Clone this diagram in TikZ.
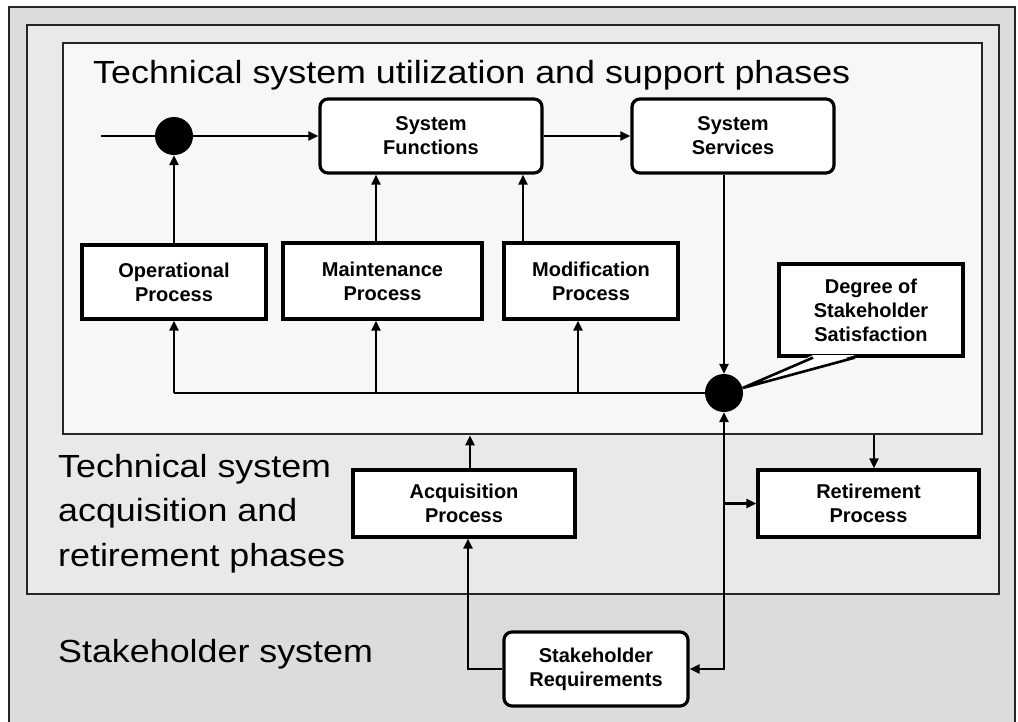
\documentclass[tikz,border=0pt]{standalone}
\usepackage{fontspec}
\setmainfont{Liberation Sans}
\newfontfamily\phasefont[FakeStretch=1.12]{Liberation Sans}
\usetikzlibrary{arrows.meta}

\definecolor{stakegray}{HTML}{DCDCDC}
\definecolor{acqgray}{HTML}{E9E9E9}
\definecolor{utilgray}{HTML}{F7F7F7}

\begin{document}
\begin{tikzpicture}[x=1pt, y=-1pt,
    >={Triangle[length=10pt,width=9pt]},
    phase/.style={draw=black!85, line width=2.8pt},
    phaselabel/.style={inner sep=0pt, font=\phasefont\fontsize{32}{44.5}\selectfont},
    procbox/.style={draw, line width=3.2pt, fill=white, align=center, inner sep=0pt,
        font=\fontsize{20}{24}\selectfont\bfseries},
    roundbox/.style={procbox, rounded corners=8pt},
    junction/.style={circle, fill=black, minimum size=38pt, inner sep=0pt},
    flow/.style={line width=2.6pt}]
    \useasboundingbox (0,0) rectangle (1018,721);
    \clip (0,0) rectangle (1018,721);

    % nested phases
    \draw[phase, fill=stakegray] (9,7) rectangle (1015,740);
    \draw[phase, fill=acqgray] (27,25) rectangle (999,594);
    \node[phase, fill=utilgray, minimum width=919pt, minimum height=391pt, inner sep=0pt] (util) at (522.5,238.5) {};

    \node[phaselabel, anchor=base west] at (93,83) {Technical system utilization and support phases};
    \node[phaselabel, anchor=north west, align=left] at (58,454) {Technical system\\acquisition and\\retirement phases};
    \node[phaselabel, anchor=base west] at (58,662) {Stakeholder system};

    % utilization and support
    \node[roundbox, minimum width=222pt, minimum height=74pt] (sf) at (431,136) {System\\Functions};
    \node[roundbox, minimum width=202pt, minimum height=74pt] (ss) at (733,136) {System\\Services};
    \node[procbox, minimum width=184pt, minimum height=74pt] (op) at (174,282) {Operational\\Process};
    \node[procbox, minimum width=199pt, minimum height=76pt] (mnt) at (382.5,281) {Maintenance\\Process};
    \node[procbox, minimum width=174pt, minimum height=76pt] (mod) at (591,281) {Modification\\Process};
    \node[procbox, minimum width=184pt, minimum height=92pt] (dss) at (871,310) {Degree of\\Stakeholder\\Satisfaction};

    % acquisition, retirement, stakeholder
    \node[procbox, minimum width=222pt, minimum height=67pt] (acq) at (464,503.5) {Acquisition\\Process};
    \node[procbox, minimum width=221pt, minimum height=67pt] (ret) at (868.5,503.5) {Retirement\\Process};
    \node[roundbox, minimum width=184pt, minimum height=74pt] (sr) at (596,669) {Stakeholder\\Requirements};

    \node[junction] (jin) at (174,136) {};
    \node[junction] (jout) at (724,393) {};

    % callout tail
    \fill[white] ([xshift=-58pt,yshift=2.5pt]dss.south) -- (jout.15) -- ([xshift=-16pt,yshift=2.5pt]dss.south) -- cycle;
    \draw[flow] ([xshift=-58pt]dss.south) -- (jout.15) -- ([xshift=-16pt]dss.south);

    \coordinate (feed) at (101,136);
    \coordinate (mntt) at ([xshift=-6.5pt]mnt.north);
    \coordinate (modt) at ([xshift=-68pt]mod.north);
    \coordinate (opb) at (op.south);
    \coordinate (mntb) at (mntt |- mnt.south);
    \coordinate (modb) at ([xshift=-13pt]mod.south);
    \coordinate (acqt) at ([xshift=6pt]acq.north);
    \coordinate (acqb) at ([xshift=4pt]acq.south);
    \coordinate (rett) at ([xshift=5.5pt]ret.north);

    \draw[flow] (feed) -- (jin);
    \draw[flow, ->] (jin) -- (sf);
    \draw[flow, ->] (sf) -- (ss);
    \draw[flow, ->] (op) -- (jin);
    \draw[flow, ->] (mntt) -- (mntt |- sf.south);
    \draw[flow, ->] (modt) -- (modt |- sf.south);
    \draw[flow, ->] (jout |- ss.south) -- (jout);

    % feedback from satisfaction
    \draw[flow] (jout.west) -- (opb |- jout);
    \foreach \c in {opb,mntb,modb}
        \draw[flow, ->] (\c |- jout) -- (\c);

    \draw[flow, ->] (acqt) -- (acqt |- util.south);
    \draw[flow, ->] (rett |- util.south) -- (rett);
    \draw[flow, <->] (sr.east) -| (jout.south);
    \draw[flow, ->] (jout |- ret.west) -- (ret.west);
    \draw[flow, ->] (sr.west) -| (acqb);
\end{tikzpicture}
\end{document}
